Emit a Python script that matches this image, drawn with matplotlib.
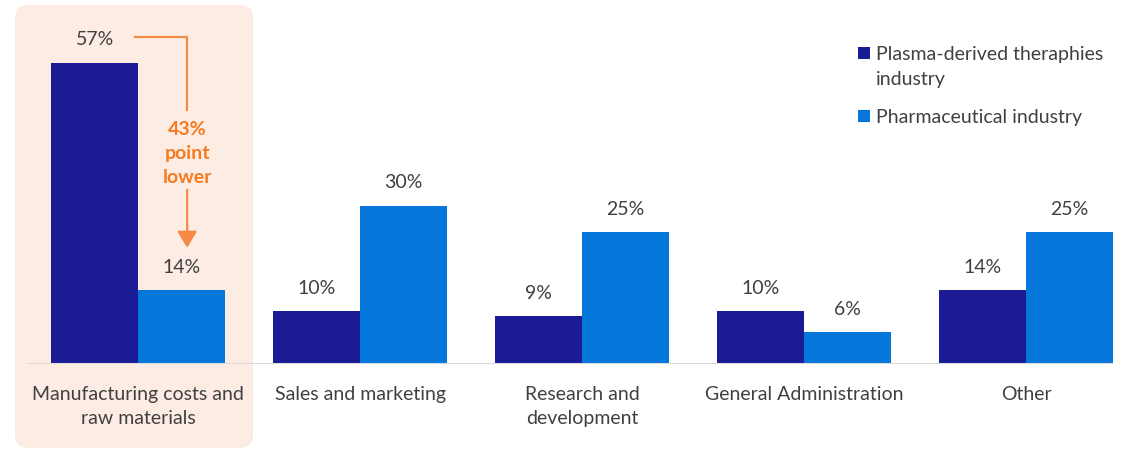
import numpy as np
import matplotlib
matplotlib.use("Agg")
import matplotlib.pyplot as plt
from matplotlib.patches import FancyBboxPatch, Rectangle

# cost structure by category, in percent of total
categories = [
    "Manufacturing costs and\nraw materials",
    "Sales and marketing",
    "Research and\ndevelopment",
    "General Administration",
    "Other",
]
plasma = [57, 10, 9, 10, 14]
pharma = [14, 30, 25, 6, 25]
series_names = ["Plasma-derived theraphies\nindustry", "Pharmaceutical industry"]
gap_label = "43%\npoint\nlower"

DARK = "#1B1B96"
LIGHT = "#0677DA"
ORANGE = "#F47B20"
ORANGE_LINE = "#F58B45"
TEXT = "#404040"
HIGHLIGHT = "#FDECE3"
FS = 14

plt.rcParams["font.family"] = ["Lato", "DejaVu Sans"]

W, H = 1123, 450
fig = plt.figure(figsize=(W / 100, H / 100), dpi=100)
ax = fig.add_axes([28 / W, (H - 364) / H, (1113 - 28) / W, 364 / H])
ax.patch.set_facecolor("none")

x = np.arange(len(categories))
bw = 0.392
ax.bar(x - bw / 2, plasma, bw, color=DARK, zorder=2)
ax.bar(x + bw / 2, pharma, bw, color=LIGHT, zorder=2)
ax.set_xlim(-0.496, len(categories) - 1 + bw)
ax.set_ylim(0, 68.9)

for xs, vals in ((x - bw / 2, plasma), (x + bw / 2, pharma)):
    for xi, v in zip(xs, vals):
        ax.annotate(f"{v}%", (xi, v), xytext=(0, 16.5), textcoords="offset points",
                    ha="center", va="center", fontsize=FS, color=TEXT)

# axis cosmetics
for s in ax.spines.values():
    s.set_visible(False)
ax.axhline(0, color="#D9D9D9", lw=1.5, zorder=3)
ax.set_yticks([])
ax.set_xticks(x)
ax.set_xticklabels(categories, fontsize=FS, color=TEXT, linespacing=1.55)
ax.tick_params(axis="x", length=0, pad=15.5)

# shaded panel behind the first category
box = FancyBboxPatch((0.15, 0.02), 2.38, 4.43,
                     boxstyle="round,pad=0,rounding_size=0.13",
                     transform=fig.dpi_scale_trans, facecolor=HIGHLIGHT,
                     edgecolor="none", zorder=-5)
fig.add_artist(box)

# bracket showing the gap between the two manufacturing bars
xa = 0.221
top = plasma[0] + 4.9
ax.plot([-0.012, xa, xa], [top, top, 48.1], color=ORANGE_LINE, lw=1.6,
        clip_on=False, zorder=4)
ax.annotate("", xy=(xa, pharma[0] + 8), xytext=(xa, 33.0),
            arrowprops=dict(arrowstyle="-|>,head_length=0.5,head_width=0.3",
                            mutation_scale=20, color=ORANGE_LINE, lw=1.6,
                            shrinkA=0, shrinkB=0))
ax.text(xa, 39.8, gap_label, ha="center", va="center", fontsize=FS,
        fontweight="bold", color=ORANGE, linespacing=1.5)

# legend
for (yc, name, col) in ((0.53, series_names[0], DARK), (1.16, series_names[1], LIGHT)):
    fig.add_artist(Rectangle((8.58, (H / 100) - yc - 0.06), 0.12, 0.12,
                             transform=fig.dpi_scale_trans, facecolor=col,
                             edgecolor="none"))
    fig.text(8.76, (H / 100) - yc + 0.07, name, transform=fig.dpi_scale_trans,
             ha="left", va="top", fontsize=FS, color=TEXT, linespacing=1.55)

fig.savefig("out.png", dpi=100)
